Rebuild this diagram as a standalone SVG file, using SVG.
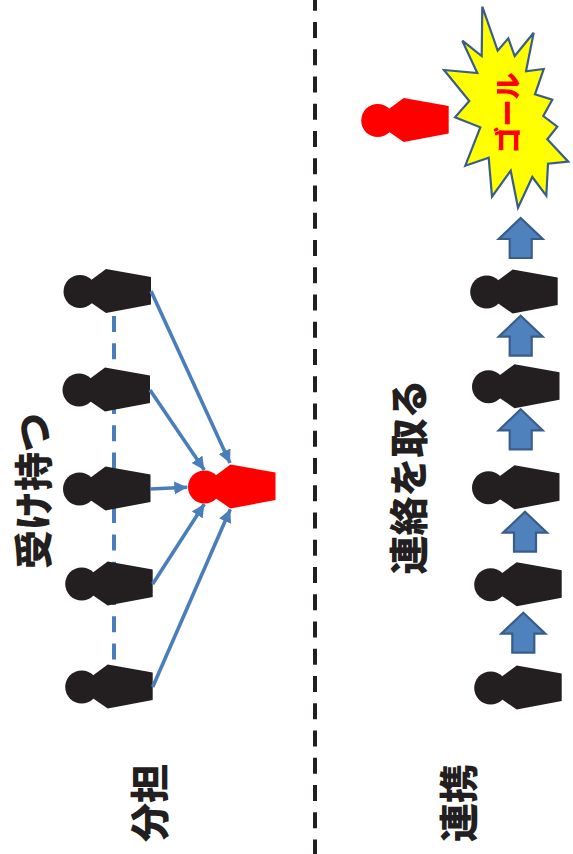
<svg xmlns="http://www.w3.org/2000/svg" width="573" height="854" viewBox="0 0 573 854">
<style>
.label{font-family:"Noto Sans CJK JP","Liberation Sans",sans-serif;font-weight:900;font-size:39px;fill:#231f20;text-anchor:middle}
.goal{font-family:"Noto Sans CJK JP","Liberation Sans",sans-serif;font-weight:900;font-size:27px;fill:#f00;text-anchor:middle}
.conn{fill:none;stroke:#4a7ebb;stroke-width:3.6;marker-end:url(#ah)}
.up{fill:#4f81bd;stroke:#385d8a;stroke-width:2.2}
.blk{fill:#231f20}
.red{fill:#f00}
</style>
<defs>
<marker id="ah" markerUnits="userSpaceOnUse" markerWidth="14" markerHeight="14" refX="13" refY="6.5" orient="auto"><path d="M0,0L13,6.5L0,13Z" fill="#4a7ebb"/></marker>
<g id="person"><circle cx="0" cy="0" r="16.5"/><path d="M11.5,-11.8L26,-22.5L71,-14.5L71,13L26,21.5L11.5,11.5Z"/></g>
<path id="arrow" d="M0,0L22,21L11,21L11,40L-11,40L-11,21L-22,21Z"/>
</defs>
<g id="divider"><line x1="315" y1="-5.3" x2="315" y2="854" stroke="#231f20" stroke-width="4" stroke-dasharray="16 11.25"/></g>
<g id="team-line"><line x1="114" y1="316" x2="114" y2="660" stroke="#4a7ebb" stroke-width="4" stroke-dasharray="16 11.3"/></g>
<g id="p1" class="blk"><use href="#person" x="80" y="291.5"/></g>
<g id="p2" class="blk"><use href="#person" x="79" y="390"/></g>
<g id="p3" class="blk"><use href="#person" x="79.5" y="489"/></g>
<g id="p4" class="blk"><use href="#person" x="81.7" y="584"/></g>
<g id="p5" class="blk"><use href="#person" x="81.7" y="687"/></g>
<g id="receiver" class="red"><use href="#person" x="204.5" y="487"/></g>
<g id="connectors">
<line class="conn" x1="151" y1="291" x2="230" y2="463"/>
<line class="conn" x1="150" y1="390" x2="204.3" y2="470"/>
<line class="conn" x1="150" y1="489" x2="187.3" y2="487.3"/>
<line class="conn" x1="152.7" y1="584" x2="204.3" y2="504"/>
<line class="conn" x1="152.7" y1="687" x2="230.3" y2="509.3"/>
</g>
<g id="label-ukemochi"><text class="label" transform="translate(48,491) rotate(-90)">受け持つ</text></g>
<g id="label-bunan"><text class="label" transform="translate(164,803) rotate(-90)">分担</text></g>
<g id="goal-person" class="red"><use href="#person" x="377.7" y="120.5"/></g>
<g id="goal-burst"><path d="M482.3,6.7L497.7,50.7L508.3,38.3L514.7,56L533.7,32.7L526,71.3L543.7,69L535,94.3L552.3,99.7L543.3,116L557.3,126.7L547.3,139.3L568.3,161.7L548,163.7L546.3,195.7L532.3,177L518,207.7L510.7,170.7L492,196.7L488.7,157.7L465.3,165.7L480.3,127.3L455,117.3L469.3,101L444,70L477.3,73L462.3,40.7L481.7,56Z" fill="#ff0" stroke="#385d8a" stroke-width="2.2"/><text class="goal" transform="translate(518,113) rotate(-90)">ゴール</text></g>
<g id="r1" class="blk"><use href="#person" x="486.7" y="292"/></g>
<g id="r2" class="blk"><use href="#person" x="488.5" y="386.7"/></g>
<g id="r3" class="blk"><use href="#person" x="488.5" y="487.7"/></g>
<g id="r4" class="blk"><use href="#person" x="490.7" y="584.7"/></g>
<g id="r5" class="blk"><use href="#person" x="490.7" y="688"/></g>
<g id="up-arrows">
<use class="up" href="#arrow" x="520.7" y="218"/>
<use class="up" href="#arrow" x="520.7" y="315.7"/>
<use class="up" href="#arrow" x="520.7" y="409.3"/>
<use class="up" href="#arrow" x="525" y="511.7"/>
<use class="up" href="#arrow" x="523.3" y="612.7"/>
</g>
<g id="label-renraku"><text class="label" transform="translate(423,477) rotate(-90)">連絡を取る</text></g>
<g id="label-renkei"><text class="label" transform="translate(473,803) rotate(-90)">連携</text></g>
</svg>
